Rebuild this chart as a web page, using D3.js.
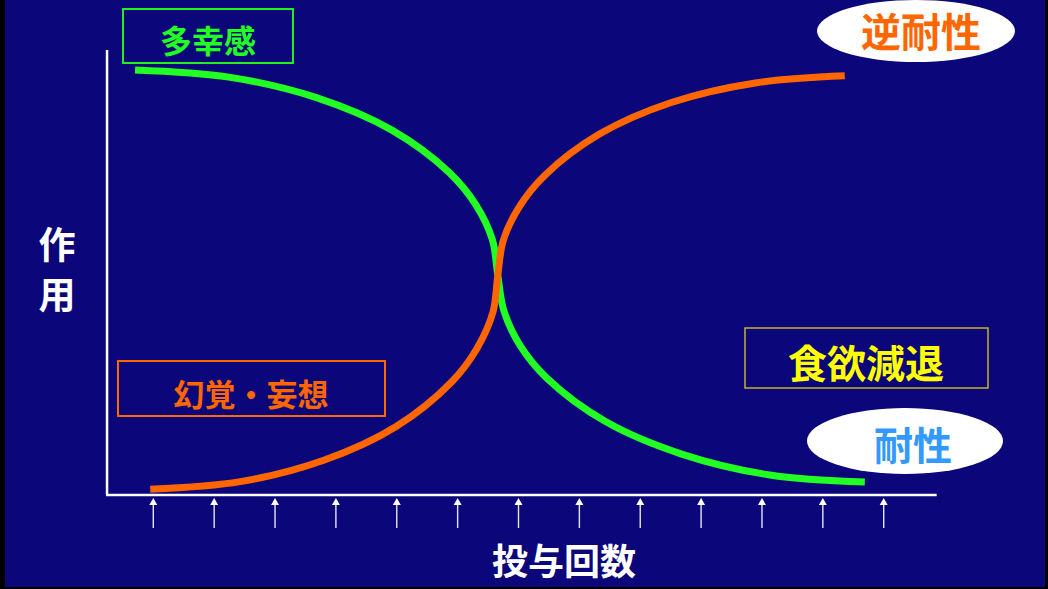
<!DOCTYPE html>
<html>
<head>
<meta charset="utf-8">
<script src="https://cdn.jsdelivr.net/npm/d3@7/dist/d3.min.js"></script>
<style>
  html, body { margin: 0; padding: 0; background: #000; }
  svg { display: block; }
  text { font-family: "Noto Sans CJK JP", "Noto Sans CJK SC", sans-serif; font-weight: 700; }
</style>
</head>
<body>
<svg id="chart" width="1048" height="589"></svg>
<script>
// Dosing occasions marked along the horizontal axis
const doses = [1, 2, 3, 4, 5, 6, 7, 8, 9, 10, 11, 12, 13];

// Euphoria curve (多幸感 → 耐性): dose number vs. effect strength (0–100)
const euphoriaDose   = [0.70, 2.24, 3.68, 4.92, 5.86, 6.30, 6.57, 6.66, 6.76, 7.03, 7.47, 8.43, 9.68, 11.13, 12.69];
const euphoriaEffect = [95.5, 93.9, 89.3, 82.0, 72.5, 65.2, 57.4, 49.4, 41.4, 33.5, 26.2, 16.5, 9.2, 4.5, 2.9];

// Hallucination / delusion curve (逆耐性)
const psychosisDose   = [0.95, 2.43, 3.80, 4.99, 5.90, 6.32, 6.58, 6.66, 6.75, 7.01, 7.43, 8.33, 9.51, 10.89, 12.36];
const psychosisEffect = [1.3, 3.0, 7.8, 15.4, 25.4, 33.0, 41.1, 49.4, 57.2, 64.7, 71.8, 81.1, 88.2, 92.6, 94.2];

// Axis titles and annotations
const yTitle = ["作", "用"];
const xTitle = "投与回数";
const boxLabels = ["多幸感", "幻覚・妄想", "食欲減退"];
const bubbleLabels = ["逆耐性", "耐性"];

const W = 1048, H = 589;
const svg = d3.select("#chart");

// slide background with dark frame edges
svg.append("rect").attr("width", W).attr("height", H).attr("fill", "#000");
svg.append("rect").attr("x", 5).attr("y", 0).attr("width", 1040).attr("height", 587).attr("fill", "#0b067a");

const x = d3.scaleLinear().domain([1, 13]).range([153.3, 883.7]);
const y = d3.scaleLinear().domain([0, 100]).range([495, 50]);

// axes: plain white lines
const axisXMin = 0.24, axisXMax = 13.87;
svg.append("line")
  .attr("x1", x(axisXMin)).attr("x2", x(axisXMin))
  .attr("y1", y(100)).attr("y2", y(0))
  .attr("stroke", "#fff").attr("stroke-width", 2.5);
svg.append("line")
  .attr("x1", x(axisXMin) - 1).attr("x2", x(axisXMax))
  .attr("y1", y(0)).attr("y2", y(0))
  .attr("stroke", "#fff").attr("stroke-width", 2.5);

// dosing arrows below the axis
const arrows = svg.append("g");
doses.forEach(d => {
  const cx = x(d), top = y(0) + 3;
  arrows.append("line")
    .attr("x1", cx).attr("x2", cx).attr("y1", top + 6).attr("y2", top + 30)
    .attr("stroke", "#e6e6f4").attr("stroke-width", 1.4);
  arrows.append("path")
    .attr("d", `M${cx},${top} L${cx - 4},${top + 7} L${cx + 4},${top + 7} Z`)
    .attr("fill", "#fff");
});

// curves
const line = d3.line()
  .x(d => x(d[0])).y(d => y(d[1]))
  .curve(d3.curveCatmullRom.alpha(0.5));

svg.append("path")
  .datum(d3.zip(euphoriaDose, euphoriaEffect))
  .attr("d", line)
  .attr("fill", "none").attr("stroke", "#22ff22").attr("stroke-width", 7);

svg.append("path")
  .datum(d3.zip(psychosisDose, psychosisEffect))
  .attr("d", line)
  .attr("fill", "none").attr("stroke", "#ff6600").attr("stroke-width", 7);

// boxed annotations
const boxes = [
  { x: 123, y: 9, w: 170, h: 54, stroke: "#22ee22", sw: 2, fill: "#22ff22", size: 32, tx: 208, ty: 39, text: boxLabels[0] },
  { x: 118, y: 361, w: 267, h: 55, stroke: "#ff6600", sw: 2, fill: "#ff6600", size: 31, tx: 251, ty: 392, text: boxLabels[1] },
  { x: 745, y: 328, w: 243, h: 60, stroke: "#c8b428", sw: 1.5, fill: "#ffff00", size: 39, tx: 866, ty: 361, text: boxLabels[2] }
];
boxes.forEach(b => {
  svg.append("rect").attr("x", b.x).attr("y", b.y).attr("width", b.w).attr("height", b.h)
    .attr("fill", "none").attr("stroke", b.stroke).attr("stroke-width", b.sw);
  svg.append("text").attr("x", b.tx).attr("y", b.ty)
    .attr("text-anchor", "middle").attr("dominant-baseline", "central")
    .attr("font-size", b.size).attr("fill", b.fill).text(b.text);
});

// white bubbles
const bubbles = [
  { cx: 916, cy: 31, rx: 99, ry: 31, fill: "#ff6600", size: 40, tx: 921, ty: 30, text: bubbleLabels[0] },
  { cx: 905, cy: 441, rx: 98, ry: 33, fill: "#3399ff", size: 39, tx: 913, ty: 443, text: bubbleLabels[1] }
];
bubbles.forEach(b => {
  svg.append("ellipse").attr("cx", b.cx).attr("cy", b.cy).attr("rx", b.rx).attr("ry", b.ry).attr("fill", "#fff");
  svg.append("text").attr("x", b.tx).attr("y", b.ty)
    .attr("text-anchor", "middle").attr("dominant-baseline", "central")
    .attr("font-size", b.size).attr("fill", b.fill).text(b.text);
});

// axis titles
yTitle.forEach((c, i) => {
  svg.append("text").attr("x", 57).attr("y", 243 + i * 50)
    .attr("text-anchor", "middle").attr("dominant-baseline", "central")
    .attr("font-size", 37).attr("fill", "#fff").text(c);
});
svg.append("text").attr("x", 564).attr("y", 559)
  .attr("text-anchor", "middle").attr("dominant-baseline", "central")
  .attr("font-size", 36).attr("fill", "#fff").text(xTitle);
</script>
</body>
</html>
